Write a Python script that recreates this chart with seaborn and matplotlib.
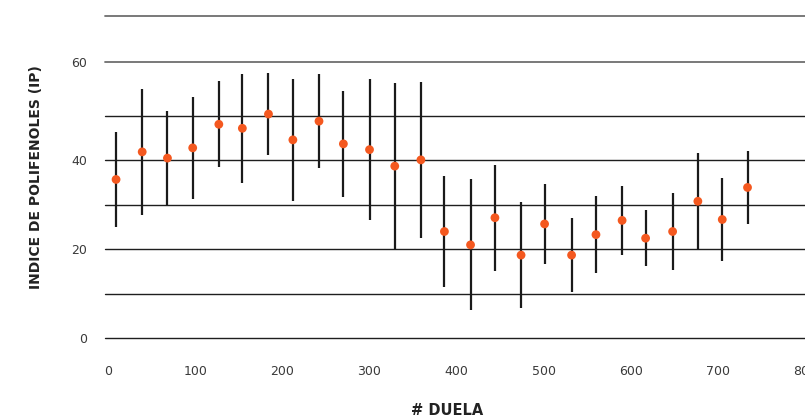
import numpy as np
import pandas as pd
import matplotlib
matplotlib.use("Agg")
import matplotlib.pyplot as plt
import seaborn as sns

# Data
duela = [9, 39, 68, 97, 127, 154, 184, 212, 242, 270, 300, 329, 359,
         386, 416, 444, 474, 501, 532, 560, 590, 617, 648, 677, 705, 734]
ip_mean = [35.7, 41.9, 40.5, 42.8, 48.1, 47.2, 50.4, 44.6, 48.8, 43.7, 42.4, 38.7, 40.1,
           24.0, 21.0, 27.1, 18.7, 25.7, 18.7, 23.3, 26.5, 22.5, 24.0, 30.8, 26.7, 33.9]
ip_sd = [10.7, 14.15, 10.55, 11.4, 9.65, 12.3, 9.15, 13.7, 10.5, 11.85, 15.85, 18.65, 17.55,
         12.55, 14.75, 11.9, 11.95, 8.95, 8.25, 8.7, 7.8, 6.35, 8.7, 10.75, 9.3, 8.2]

# horizontal lines as they sit in the picture (the upper two are spaced oddly)
grid_levels = [0, 10, 20, 30, 40, 50, 62.1, 72.5]
ytick_pos = [0, 20, 40, 62.1]
ytick_labels = ["0", "20", "40", "60"]
xticks = [0, 100, 200, 300, 400, 500, 600, 700, 800]

df = pd.DataFrame({"duela": duela, "ip": ip_mean, "sd": ip_sd})

sns.set_style("white")
plt.rcParams["font.family"] = ["DejaVu Sans"]

fig = plt.figure(figsize=(8.05, 4.19), dpi=100)
ax = fig.add_axes([105 / 805, (419 - 338.3) / 419, 1 - 105 / 805, (338.3 - 13.5) / 419])

# grid lines
for lv in grid_levels:
    col = "#6e6e6e" if lv > 55 else "#1e1e1e"
    lw = 1.3 if lv > 55 else 1.0
    ax.axhline(lv, color=col, lw=lw, clip_on=False, zorder=1)

# error bars
ax.vlines(df["duela"], df["ip"] - df["sd"], df["ip"] + df["sd"],
          color="#1a1a1a", lw=1.6, zorder=2)

# mean points
sns.scatterplot(data=df, x="duela", y="ip", ax=ax, color="#f4581f",
                s=40, edgecolor="none", zorder=3)

ax.set_xlim(-3.7, 793.8)
ax.set_ylim(0, 73)
ax.set_xticks(xticks)
ax.set_xticklabels([str(t) for t in xticks])
ax.set_yticks(ytick_pos)
ax.set_yticklabels(ytick_labels)
ax.tick_params(axis="both", length=0, labelsize=9, labelcolor="#3a3a3a")
ax.tick_params(axis="x", pad=19)
ax.tick_params(axis="y", pad=13)
for s in ax.spines.values():
    s.set_visible(False)

ax.set_xlabel("")
ax.set_ylabel("")
fig.text(36 / 805, 0.578, "INDICE DE POLIFENOLES (IP)", rotation=90,
         ha="center", va="center", fontsize=10, fontweight="bold", color="#222222")
fig.text(447 / 805, (419 - 403) / 419, "# DUELA", ha="center", va="top",
         fontsize=10.5, fontweight="bold", color="#222222")

fig.savefig("out.png", dpi=100)
